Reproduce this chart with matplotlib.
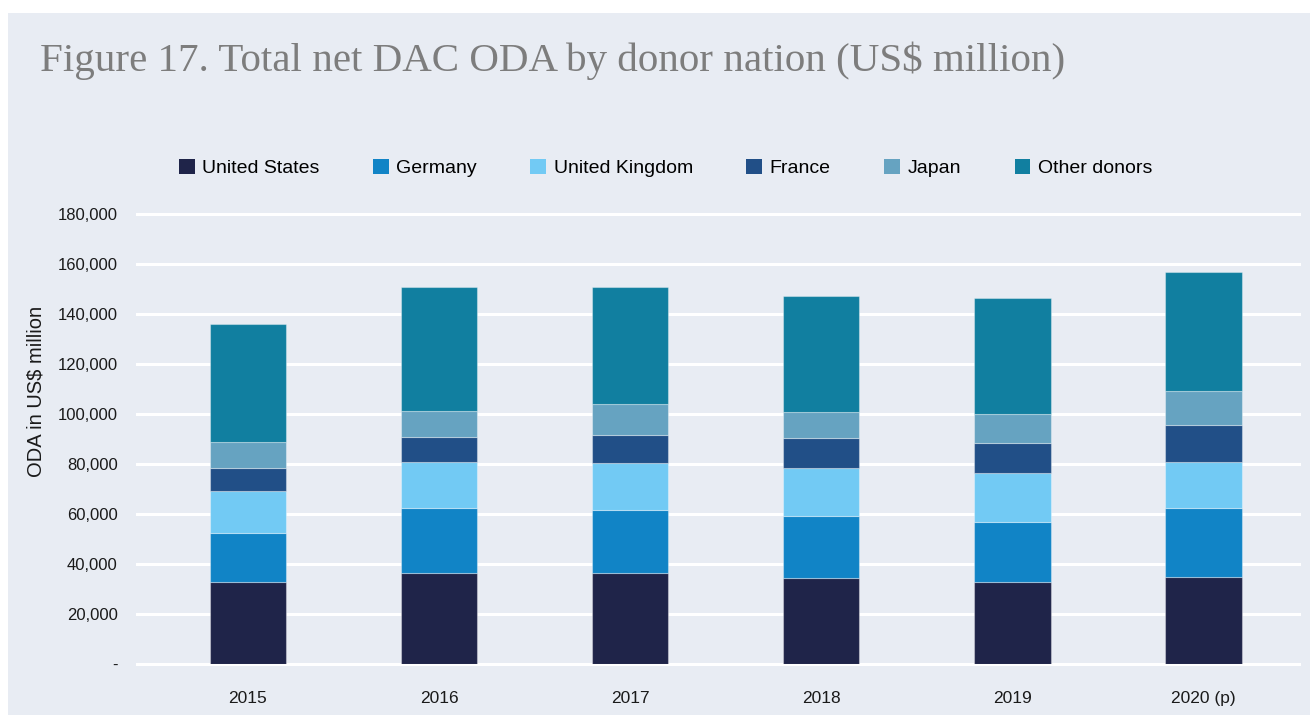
import matplotlib.pyplot as plt
import matplotlib.patches as mpatches
import numpy as np

plt.rcParams['font.family'] = ['Liberation Sans', 'DejaVu Sans']

years = ["2015", "2016", "2017", "2018", "2019", "2020 (p)"]
donors = ["United States", "Germany", "United Kingdom", "France", "Japan", "Other donors"]

united_states = [33000, 36500, 36400, 34400, 32800, 34800]
germany = [19400, 26100, 25400, 24900, 24200, 27800]
united_kingdom = [16900, 18400, 18700, 19100, 19500, 18200]
france = [9300, 10000, 11300, 12000, 11900, 15000]
japan = [10300, 10300, 12200, 10500, 11700, 13500]
other_donors = [47200, 49800, 46800, 46400, 46300, 47600]

colors = ["#1f2449", "#1184c6", "#72caf4", "#214f87", "#66a3c1", "#117fa0"]
series = [united_states, germany, united_kingdom, france, japan, other_donors]

bg = "#e8ecf3"

fig = plt.figure(figsize=(13.10, 7.22), dpi=100, facecolor="white")
fig.patches.append(mpatches.Rectangle((8/1310, 7/722), 1 - 8/1310, 1 - 20/722,
                                      transform=fig.transFigure, facecolor=bg,
                                      edgecolor="none", zorder=-10))

ax = fig.add_axes([137/1310, 57.7/722, 1162/1310, 450/722])
ax.patch.set_alpha(0)

x = np.arange(len(years))
bottom = np.zeros(len(years))
for name, vals, c in zip(donors, series, colors):
    ax.bar(x, vals, 0.40, bottom=bottom, color=c, label=name,
           edgecolor=(1, 1, 1, 0.35), linewidth=0.8, zorder=3)
    bottom += np.array(vals)

ax.set_xlim(-0.58, 5.5)
ax.set_ylim(0, 180000)
yt = np.arange(0, 180001, 20000)
ax.set_yticks(yt)
ax.set_yticklabels(["-"] + [f"{v:,}" for v in yt[1:]])
ax.set_xticks(x)
ax.set_xticklabels(years)
ax.yaxis.grid(True, color="white", linewidth=2.2, zorder=1)
for gl in ax.get_ygridlines():
    gl.set_clip_on(False)
ax.set_axisbelow(True)
for s in ax.spines.values():
    s.set_visible(False)
ax.tick_params(axis="both", length=0, labelsize=12, labelcolor="#1a1a1a")
ax.tick_params(axis="x", labelsize=12.5)
ax.tick_params(axis="y", pad=14)
ax.tick_params(axis="x", pad=19)
ax.set_ylabel("ODA in US$ million", fontsize=14.5, color="#1a1a1a")
ax.yaxis.set_label_coords(-0.079, 0.607)

handles = [mpatches.Rectangle((0, 0), 1, 1, facecolor=c) for c in colors]
fig.legend(handles, donors, loc="center", bbox_to_anchor=(0.508, 0.767), ncol=6,
           frameon=False, fontsize=14, handlelength=0.82, handleheight=0.82,
           handletextpad=0.38, columnspacing=2.75)

fig.text(40/1310, 1 - 42/722, "Figure 17. Total net DAC ODA by donor nation (US$ million)",
         fontsize=29.5, color="#7d7d7d", family="Liberation Serif", va="top", ha="left")

fig.savefig("out.png", dpi=100, facecolor="white")
